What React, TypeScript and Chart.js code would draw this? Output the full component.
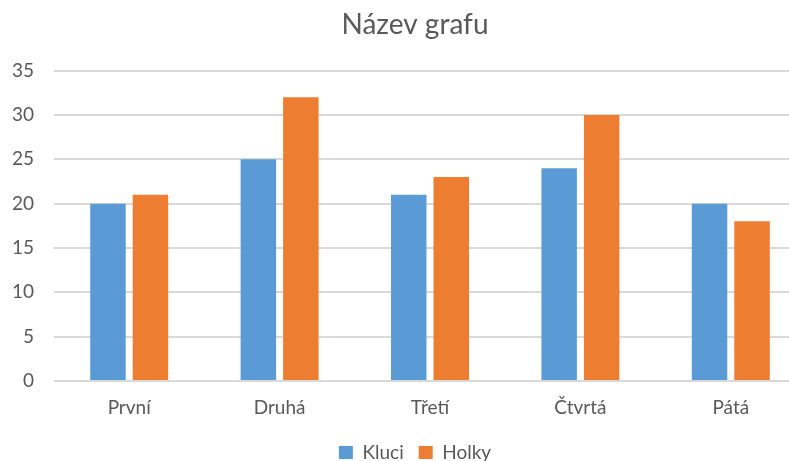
import React, { useEffect, useRef } from "react";
import { Chart, registerables } from "chart.js";

Chart.register(...registerables);

const categories = ["První", "Druhá", "Třetí", "Čtvrtá", "Pátá"];
const kluci = [20, 25, 21, 24, 20];
const holky = [21, 32, 23, 30, 18];
const yTicks = [0, 5, 10, 15, 20, 25, 30, 35];

export default function App() {
  const ref = useRef<HTMLCanvasElement>(null);
  useEffect(() => {
    if (!ref.current) return;
    const font = "Lato, 'Open Sans', sans-serif";
    const chart = new Chart(ref.current, {
      type: "bar",
      data: {
        labels: categories,
        datasets: [
          { label: "Kluci", data: kluci, backgroundColor: "#5b9bd5", categoryPercentage: 0.565, barPercentage: 0.835 },
          { label: "Holky", data: holky, backgroundColor: "#ed7d31", categoryPercentage: 0.565, barPercentage: 0.835 },
        ],
      },
      options: {
        responsive: false,
        animation: false,
        layout: { padding: { left: 0, right: 0, top: 0, bottom: 0 } },
        plugins: {
          title: {
            display: true,
            text: "Název grafu",
            color: "#595959",
            font: { family: font, size: 28, weight: "normal" },
            padding: { top: 8, bottom: 29 },
          },
          legend: {
            position: "bottom",
            labels: {
              color: "#595959",
              font: { family: font, size: 19 },
              boxWidth: 14,
              boxHeight: 13,
              padding: 15,
            },
          },
          tooltip: { enabled: false },
        },
        scales: {
          x: {
            grid: { display: false, drawTicks: false },
            border: { display: false },
            ticks: { color: "#595959", font: { family: font, size: 19 }, padding: 15 },
            afterFit: (s: any) => { s.height = 47; },
          },
          y: {
            min: 0,
            max: 35,
            afterBuildTicks: (s: any) => { s.ticks = yTicks.map((v) => ({ value: v })); },
            grid: { color: "#d9d9d9", lineWidth: 2, drawTicks: false },
            border: { display: false },
            ticks: { color: "#595959", font: { family: font, size: 19 }, padding: 20 },
            afterFit: (s: any) => { s.width = 54; },
          },
          yRight: {
            position: "right",
            display: true,
            grid: { display: false, drawTicks: false },
            border: { display: false },
            ticks: { display: false },
            afterFit: (s: any) => { s.width = 24; },
          },
        },
      },
    });
    return () => chart.destroy();
  }, []);
  return (
    <div style={{ position: "absolute", left: 0, top: 0, width: 789, height: 461, overflow: "hidden", background: "#fff" }}>
      <canvas ref={ref} width={830} height={472} style={{ width: 830, height: 472, display: "block" }} />
    </div>
  );
}
